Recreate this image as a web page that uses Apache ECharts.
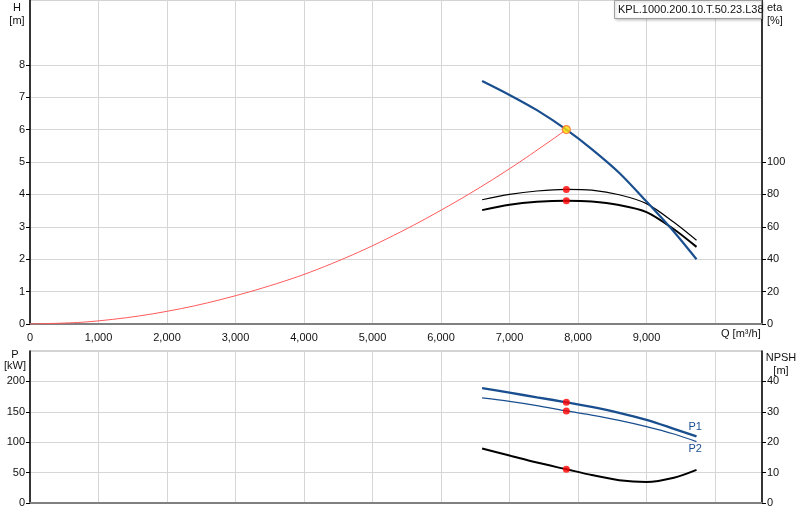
<!DOCTYPE html>
<html><head><meta charset="utf-8">
<script src="https://cdn.jsdelivr.net/npm/echarts@6/dist/echarts.min.js"></script>
<style>html,body{margin:0;padding:0;background:#fff}#c{width:800px;height:520px}</style>
</head><body><div id="c"></div>
<script>
// ---- data ----
const dutyQ = 7830;
const qPump = [6600, 7000, 7400, 7830, 8200, 8600, 9000, 9400, 9730];
const head  = [7.5, 7.07, 6.6, 6.0, 5.4, 4.67, 3.78, 2.85, 2.0];
const qSys  = [0, 800, 1600, 2400, 3200, 4000, 4800, 5600, 6400, 7100, 7830];
const hSys  = [0, 0.06, 0.25, 0.56, 0.99, 1.53, 2.22, 3.05, 4.0, 4.93, 6.0];
const qEta  = [6600, 7000, 7400, 7830, 8200, 8600, 9000, 9400, 9730];
const etaA  = [76.7, 80.0, 82.1, 83.1, 82.6, 79.8, 74.3, 62.8, 51.7];
const etaB  = [70.3, 73.6, 75.4, 76.1, 75.6, 73.4, 69.1, 58.5, 47.6];
const qPow  = [6600, 7000, 7400, 7830, 8200, 8600, 9000, 9400, 9730];
const p1    = [189, 181.5, 173.8, 165.6, 158, 148.3, 136.7, 122, 109.5];
const p2    = [173, 167.2, 160.3, 151.5, 144.5, 136, 125.7, 113.5, 101];
const qNpsh = [6600, 7000, 7400, 7830, 8200, 8600, 9000, 9400, 9730];
const npsh  = [17.9, 15.6, 13.3, 11.1, 9.2, 7.5, 6.9, 8.3, 10.9];
const hTicks = [0, 1, 2, 3, 4, 5, 6, 7, 8];
const etaTicks = [0, 20, 40, 60, 80, 100];
const pTicks = [0, 50, 100, 150, 200];
const npshTicks = [0, 10, 20, 30, 40];
const pumpName = 'KPL.1000.200.10.T.50.23.L38';

const pairs = (xs, ys) => xs.map((x, i) => [x, ys[i]]);
const at = (xs, ys, x) => ys[xs.indexOf(x)];

const FONT = 'Liberation Sans, Arial, sans-serif';
const XMAX = 10686;
const gridCol = '#d6d6d6';
const blue = '#1a4f8f';
const txt = '#111';

function xAx(gi, showLabels) {
  return {
    type: 'value', gridIndex: gi, min: 0, max: XMAX, interval: 1000,
    axisLine: {show: true, onZero: false, lineStyle: {color: '#808080', width: 2}},
    axisTick: {show: false},
    splitLine: {show: true, lineStyle: {color: gridCol, width: 1}},
    axisLabel: {show: showLabels, showMaxLabel: false, color: txt, fontSize: 11, fontFamily: FONT, margin: 8,
      formatter: v => (v >= 10000 ? '' : v.toLocaleString('en-US'))}
  };
}
function yAx(gi, pos, max, interval, ticks, split) {
  return {
    type: 'value', gridIndex: gi, position: pos, min: 0, max: max, interval: interval,
    axisLine: {show: true, onZero: false, lineStyle: {color: '#000', width: 1.5}},
    axisTick: {show: true, length: 4, customValues: ticks, lineStyle: {color: '#000'}},
    splitLine: {show: split, lineStyle: {color: gridCol, width: 1}},
    axisLabel: {show: true, customValues: ticks, color: txt, fontSize: 11, fontFamily: FONT, margin: 5}
  };
}
function dot(xi, yi, x, y, color, border, size) {
  return {type: 'scatter', xAxisIndex: xi, yAxisIndex: yi, data: [[x, y]], symbolSize: size, z: 10,
    itemStyle: {color: color, borderColor: border, borderWidth: border ? 1.2 : 0}, silent: true};
}
function curve(xi, yi, xs, ys, color, width, extra) {
  return Object.assign({type: 'line', xAxisIndex: xi, yAxisIndex: yi, data: pairs(xs, ys),
    smooth: 0.3, showSymbol: false, lineStyle: {color: color, width: width}}, extra || {});
}

const chart = echarts.init(document.getElementById('c'), null, {renderer: 'canvas'});
chart.setOption({
  animation: false,
  backgroundColor: '#fff',
  grid: [
    {left: 30, width: 732, top: 0, height: 324, show: true, borderColor: '#a8a8a8', borderWidth: 1},
    {left: 30, width: 732, top: 351, height: 152, show: true, borderColor: '#a8a8a8', borderWidth: 1}
  ],
  xAxis: [xAx(0, true), xAx(1, false)],
  yAxis: [
    yAx(0, 'left', 10, 1, hTicks, true),
    yAx(0, 'right', 200, 20, etaTicks, false),
    yAx(1, 'left', 250, 50, pTicks, true),
    yAx(1, 'right', 50, 10, npshTicks, false)
  ],
  series: [
    curve(0, 0, qSys, hSys, '#ff5a5a', 1),
    curve(0, 1, qEta, etaA, '#000', 1.2),
    curve(0, 1, qEta, etaB, '#000', 2),
    curve(0, 0, qPump, head, blue, 2.2, {z: 5}),
    curve(1, 2, qPow, p1, blue, 2.4, {endLabel: {show: true, formatter: 'P1', offset: [-16, -9], color: blue, fontSize: 11, fontFamily: FONT}}),
    curve(1, 2, qPow, p2, blue, 1.2, {endLabel: {show: true, formatter: 'P2', offset: [-16, 7], color: blue, fontSize: 11, fontFamily: FONT}}),
    curve(1, 3, qNpsh, npsh, '#000', 2),
    dot(0, 1, dutyQ, at(qEta, etaA, dutyQ), '#ff0000', null, 7),
    dot(0, 1, dutyQ, at(qEta, etaB, dutyQ), '#ff0000', null, 7),
    dot(0, 0, dutyQ, at(qPump, head, dutyQ), '#ffe000', '#ff6a3a', 8),
    dot(1, 2, dutyQ, at(qPow, p1, dutyQ), '#ff0000', null, 7),
    dot(1, 2, dutyQ, at(qPow, p2, dutyQ), '#ff0000', null, 7),
    dot(1, 3, dutyQ, at(qNpsh, npsh, dutyQ), '#ff0000', null, 7)
  ],
  graphic: [
    {type: 'text', x: 17, y: 1, style: {text: 'H\n[m]', fill: txt, font: '11px ' + FONT, align: 'center', lineHeight: 13}},
    {type: 'text', x: 767, y: 1, style: {text: 'eta\n[%]', fill: txt, font: '11px ' + FONT, align: 'left', lineHeight: 13}},
    {type: 'text', x: 15, y: 349, style: {text: 'P\n[kW]', fill: txt, font: '11px ' + FONT, align: 'center', lineHeight: 11}},
    {type: 'text', x: 781, y: 351, style: {text: 'NPSH\n[m]', fill: txt, font: '11px ' + FONT, align: 'center', lineHeight: 13}},
    {type: 'text', x: 721, y: 328, style: {text: 'Q [m³/h]', fill: txt, font: '11px ' + FONT}},
    {type: 'rect', shape: {x: 614.5, y: 0.5, width: 147, height: 18}, z: 100,
      style: {fill: '#fff', stroke: '#a0a0a0', lineWidth: 1, shadowBlur: 3, shadowColor: 'rgba(0,0,0,0.25)', shadowOffsetX: 1, shadowOffsetY: 1}},
    {type: 'text', x: 618, y: 4, z: 101, style: {text: pumpName, fill: txt, font: '11px ' + FONT}}
  ]
});
</script></body></html>
